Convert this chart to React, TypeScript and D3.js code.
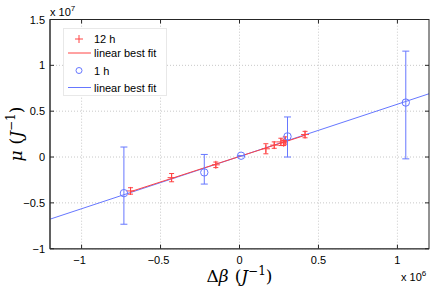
import React from "react";
import * as d3 from "d3";

const xTicks = [-1, -0.5, 0, 0.5, 1];
const yTicks = [-1, -0.5, 0, 0.5, 1, 1.5];
const xTickLabels = ["\u22121", "\u22120.5", "0", "0.5", "1"];
const yTickLabels = ["\u22121", "\u22120.5", "0", "0.5", "1", "1.5"];

// 12 h series (x in 1e6, y in 1e7)
const redX = [-0.69, -0.43, -0.15, 0.167, 0.22, 0.262, 0.28, 0.29, 0.415];
const redY = [-0.37, -0.225, -0.085, 0.09, 0.13, 0.165, 0.155, 0.18, 0.245];
const redErr = [0.035, 0.045, 0.03, 0.055, 0.035, 0.04, 0.03, 0.04, 0.035];
const redFit = [-0.69, 0.415];

// 1 h series
const blueX = [-0.732, -0.223, 0.01, 0.304, 1.053];
const blueY = [-0.394, -0.168, 0.014, 0.225, 0.594];
const blueLo = [-0.733, -0.295, 0.014, 0.0, -0.02];
const blueHi = [0.109, 0.028, 0.014, 0.437, 1.155];
const blueFit = [-1.2, 1.2];

const slopeR = 0.556;
const interR = 0.006;
const slopeB = 0.57;
const interB = 0.006;

const W = 431;
const H = 290;
const m = { l: 50, r: 2, t: 19.5, b: 41.3 };

const RED = "#ff4444";
const BLUE = "#6677ff";

export default function App() {
  const x = d3.scaleLinear().domain([-1.2, 1.2]).range([m.l, W - m.r]);
  const y = d3.scaleLinear().domain([-1, 1.5]).range([H - m.b, m.t]);
  const x0 = x.range()[0], x1 = x.range()[1];
  const y0 = y.range()[0], y1 = y.range()[1];
  const line = d3.line<[number, number]>().x((d) => x(d[0])).y((d) => y(d[1]));
  const tf = "'Liberation Sans', Arial, Helvetica, sans-serif";
  const serif = "'DejaVu Serif', 'Liberation Serif', serif";
  const plus = (cx: number, cy: number, c: string, k: string) => (
    <g key={k} stroke={c} strokeWidth={1}>
      <line x1={cx - 4} x2={cx + 4} y1={cy} y2={cy} />
      <line x1={cx} x2={cx} y1={cy - 4} y2={cy + 4} />
    </g>
  );
  return (
    <svg width={W} height={H} style={{ position: "absolute", left: 0, top: 0, background: "#fff" }}>
      {/* grid */}
      <g stroke="#c8c8c8" strokeWidth={1} strokeDasharray="1,2">
        {xTicks.map((t) => (
          <line key={"gx" + t} x1={x(t)} x2={x(t)} y1={y0} y2={y1} />
        ))}
        {yTicks.map((t) => (
          <line key={"gy" + t} x1={x0} x2={x1} y1={y(t)} y2={y(t)} />
        ))}
      </g>
      {/* fits */}
      <path d={line(blueFit.map((v) => [v, interB + slopeB * v]) as [number, number][]) || ""} stroke={BLUE} fill="none" strokeWidth={1} />
      <path d={line(redFit.map((v) => [v, interR + slopeR * v]) as [number, number][]) || ""} stroke={RED} fill="none" strokeWidth={1} />
      {/* red error bars & markers */}
      {redX.map((vx, i) => {
        const cx = x(vx);
        return (
          <g key={"r" + i} stroke={RED} strokeWidth={1}>
            <line x1={cx} x2={cx} y1={y(redY[i] - redErr[i])} y2={y(redY[i] + redErr[i])} />
            <line x1={cx - 2.5} x2={cx + 2.5} y1={y(redY[i] - redErr[i])} y2={y(redY[i] - redErr[i])} />
            <line x1={cx - 2.5} x2={cx + 2.5} y1={y(redY[i] + redErr[i])} y2={y(redY[i] + redErr[i])} />
          </g>
        );
      })}
      {redX.map((vx, i) => plus(x(vx), y(redY[i]), RED, "rp" + i))}
      {/* blue error bars & markers */}
      {blueX.map((vx, i) => {
        const cx = x(vx);
        return (
          <g key={"b" + i} stroke={BLUE} strokeWidth={1} fill="none">
            <line x1={cx} x2={cx} y1={y(blueLo[i])} y2={y(blueHi[i])} />
            <line x1={cx - 3.5} x2={cx + 3.5} y1={y(blueLo[i])} y2={y(blueLo[i])} />
            <line x1={cx - 3.5} x2={cx + 3.5} y1={y(blueHi[i])} y2={y(blueHi[i])} />
            <circle cx={cx} cy={y(blueY[i])} r={3.7} fill="none" />
          </g>
        );
      })}
      {/* axes box */}
      <rect x={x0} y={y1} width={x1 - x0} height={y0 - y1} fill="none" stroke="#262626" strokeWidth={1} />
      <line x1={x0} x2={x0} y1={y1} y2={y0} stroke="#555" strokeWidth={1.6} />
      <line x1={x0} x2={x1} y1={y0} y2={y0} stroke="#555" strokeWidth={1.6} />
      <g stroke="#262626" strokeWidth={1}>
        {xTicks.map((t) => (
          <g key={"xt" + t}>
            <line x1={x(t)} x2={x(t)} y1={y0} y2={y0 - 4} />
            <line x1={x(t)} x2={x(t)} y1={y1} y2={y1 + 4} />
          </g>
        ))}
        {yTicks.map((t) => (
          <g key={"yt" + t}>
            <line x1={x0} x2={x0 + 4} y1={y(t)} y2={y(t)} />
            <line x1={x1} x2={x1 - 4} y1={y(t)} y2={y(t)} />
          </g>
        ))}
      </g>
      {/* tick labels */}
      <g fontFamily={tf} fontSize={11} fill="#000">
        {xTicks.map((t, i) => (
          <text key={"xl" + t} x={x(t) - (t < 0 ? 2 : 0)} y={y0 + 15} textAnchor="middle">
            {xTickLabels[i]}
          </text>
        ))}
        {yTicks.map((t, i) => (
          <text key={"yl" + t} x={x0 - 5} y={y(t) + 4} textAnchor="end">
            {yTickLabels[i]}
          </text>
        ))}
        <text x={x0} y={y1 - 4}>
          x 10<tspan fontSize={8} dy={-5}>7</tspan>
        </text>
        <text x={401} y={281}>
          x 10<tspan fontSize={8} dy={-5}>6</tspan>
        </text>
      </g>
      {/* axis labels */}
      <text x={239.5} y={282} textAnchor="middle" fontFamily={serif} fontSize={17}>
        Δ<tspan fontStyle="italic">β</tspan>
        <tspan dx={6}>(</tspan>
        <tspan fontStyle="italic">J</tspan>
        <tspan fontSize={12} dy={-7}>−1</tspan>
        <tspan dy={7}>)</tspan>
      </text>
      <text transform={`translate(22,${(y0 + y1) / 2}) rotate(-90)`} textAnchor="middle" fontFamily={serif} fontSize={17}>
        <tspan fontStyle="italic">μ</tspan>
        <tspan dx={6}>(</tspan>
        <tspan fontStyle="italic">J</tspan>
        <tspan fontSize={12} dy={-7}>−1</tspan>
        <tspan dy={7}>)</tspan>
      </text>
      {/* legend */}
      <g>
        <rect x={63.5} y={28.5} width={103} height={67} fill="#fff" stroke="#e8e8e8" strokeWidth={1} />
        {plus(79, 39, RED, "lp")}
        <line x1={68} x2={91} y1={53} y2={53} stroke={RED} strokeWidth={1} />
        <circle cx={79} cy={70.5} r={3} fill="none" stroke={BLUE} strokeWidth={1} />
        <line x1={68} x2={91} y1={87.5} y2={87.5} stroke={BLUE} strokeWidth={1} />
        <g fontFamily={tf} fontSize={11} fill="#000">
          <text x={94} y={43}>12 h</text>
          <text x={94} y={57}>linear best fit</text>
          <text x={94} y={74.5}>1 h</text>
          <text x={94} y={91.5}>linear best fit</text>
        </g>
      </g>
    </svg>
  );
}
